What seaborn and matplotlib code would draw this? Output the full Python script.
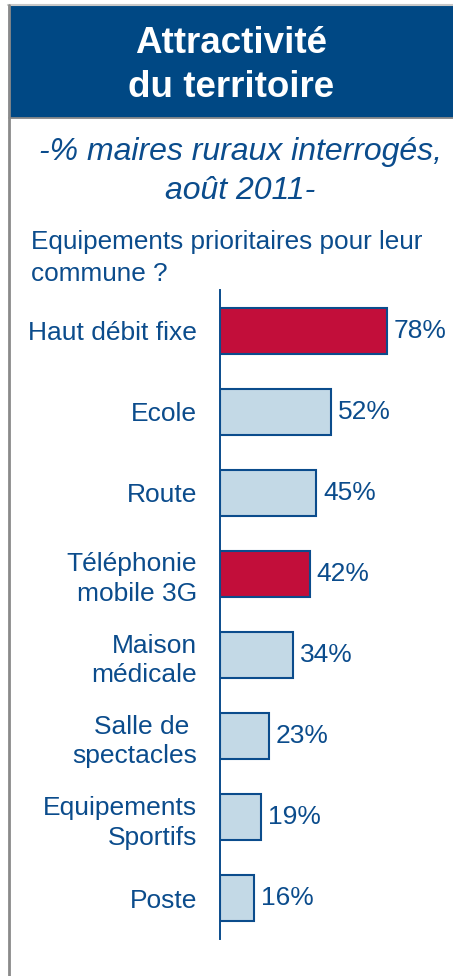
import matplotlib
matplotlib.use("Agg")
import matplotlib.pyplot as plt
import seaborn as sns
import pandas as pd

categories = ["Haut débit fixe", "Ecole", "Route", "Téléphonie\nmobile 3G",
              "Maison\nmédicale", "Salle de \nspectacles", "Equipements\nSportifs", "Poste"]
values = [78, 52, 45, 42, 34, 23, 19, 16]
highlight = [True, False, False, True, False, False, False, False]

title_lines = ["Attractivité", "du territoire"]
subtitle_lines = ["-% maires ruraux interrogés,", "août 2011-"]
question_lines = ["Equipements prioritaires pour leur", "commune ?"]

NAVY = "#0B4C8C"
HEAD = "#004884"
RED = "#C20E3A"
LIGHT = "#C3D9E6"

sns.set_style("white")
plt.rcParams["font.family"] = ["Liberation Sans", "DejaVu Sans"]

df = pd.DataFrame({"cat": categories, "val": values})
palette = {c: (RED if h else LIGHT) for c, h in zip(categories, highlight)}

W, H = 453, 976
fig = plt.figure(figsize=(W / 100, H / 100), dpi=100)

def fx(px):
    return px / W

def fy(py):
    return 1 - py / H

# frame + header band
fig.patches.append(plt.Rectangle((fx(9), fy(117)), 1 - fx(9), fy(6) - fy(117),
                                 transform=fig.transFigure, color=HEAD, zorder=0))
fig.add_artist(plt.Line2D([fx(8), 1], [fy(5), fy(5)], color="#C8C8C8", lw=1.5))
fig.add_artist(plt.Line2D([fx(9), 1], [fy(117.5), fy(117.5)], color="#8A8A8A", lw=1.3))
fig.add_artist(plt.Line2D([fx(8.5), fx(8.5)], [0, fy(5)], color="#8A8A8A", lw=2))

for txt, yb in zip(title_lines, [53, 97]):
    fig.text(fx(231), fy(yb), txt, ha="center", va="baseline", color="white",
             fontsize=26.5, fontweight="bold")
for txt, yb in zip(subtitle_lines, [160, 199]):
    fig.text(fx(240), fy(yb), txt, ha="center", va="baseline", color=NAVY,
             fontsize=23, fontstyle="italic")
for txt, yb in zip(question_lines, [249, 281]):
    fig.text(fx(31), fy(yb), txt, ha="left", va="baseline", color=NAVY, fontsize=18.8)

ax = fig.add_axes([fx(220), fy(939), fx(213.7), (939 - 290) / H])
sns.barplot(data=df, x="val", y="cat", hue="cat", palette=palette, legend=False,
            orient="h", width=0.566, saturation=1, edgecolor=NAVY, linewidth=1.5, ax=ax)

for cont in ax.containers:
    ax.bar_label(cont, fmt="%d%%", padding=5, color=NAVY, fontsize=19)

ax.set_xlim(0, 100)
ax.set_ylim(7.5, -0.5)
ax.set_xlabel("")
ax.set_ylabel("")
ax.set_xticks([])
ax.tick_params(axis="y", length=0, pad=16.5, labelsize=19, labelcolor=NAVY)
for lbl in ax.get_yticklabels():
    lbl.set_horizontalalignment("right")
    lbl.set_linespacing(1.3)
for s in ["top", "right", "bottom"]:
    ax.spines[s].set_visible(False)
ax.spines["left"].set_color(NAVY)
ax.spines["left"].set_linewidth(1.4)
ax.patch.set_alpha(0)

fig.savefig("out.png", dpi=100)
